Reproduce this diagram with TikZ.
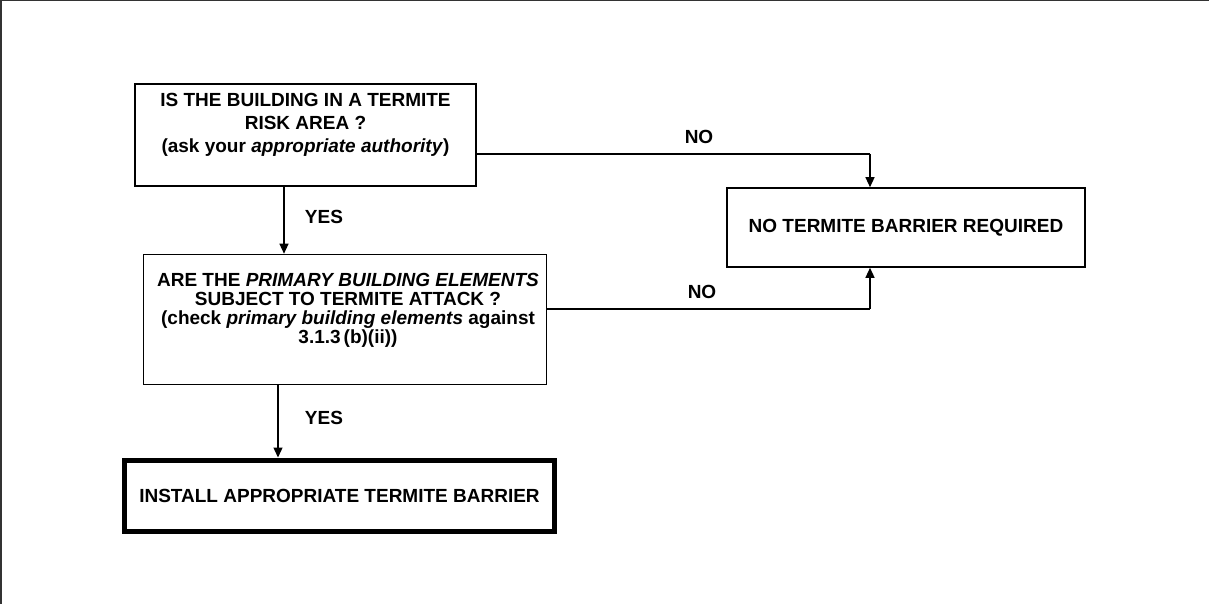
\documentclass[tikz,border=0pt]{standalone}
\usepackage{fontspec}
\setmainfont{Liberation Sans}
\usetikzlibrary{arrows.meta}
\tikzset{
  box/.style={draw=black, line width=1.6pt, fill=none, inner sep=0pt},
  thickbox/.style={draw=black, line width=5pt, inner sep=0pt},
  txt/.style={inner sep=0pt, align=center, font=\bfseries\fontsize{19}{23.3}\selectfont},
  txttight/.style={inner sep=0pt, align=center, font=\bfseries\fontsize{19}{19}\selectfont},
  lab/.style={inner sep=0pt, font=\bfseries\fontsize{19}{23}\selectfont},
  arr/.style={draw=black, line width=1.3pt, -{Triangle[length=10pt,width=9pt]}},
  conn/.style={draw=black, line width=1.3pt}
}
\begin{document}
\begin{tikzpicture}[x=1pt,y=1pt]
\useasboundingbox (0,0) rectangle (1209,-604);
% frame
\draw[line width=1.5pt, black!80] (0.75,-604) -- (0.75,-0.75) -- (1209,-0.75);
% boxes
\node[box, minimum width=341pt, minimum height=102pt] (b1) at (305.5,-135) {};
\node[box, minimum width=403pt, minimum height=130pt] (b2) at (345,-319.5) {};
\node[thickbox, minimum width=430pt, minimum height=71.5pt] (b3) at (339.5,-495.75)
  {\bfseries\fontsize{19}{23}\selectfont INSTALL APPROPRIATE TERMITE BARRIER};
\node[box, minimum width=358pt, minimum height=79pt] (b4) at (906,-227.5)
  {\bfseries\fontsize{19}{23}\selectfont NO TERMITE BARRIER REQUIRED};
% box texts
\node[txt, anchor=north] (t1) at (305.5,-92.7)
  {IS THE BUILDING IN A TERMITE\\RISK AREA ?\\(ask your \textit{appropriate authority})};
\node[txttight, anchor=north] (t2) at (348,-272.7)
  {ARE THE \textit{PRIMARY BUILDING ELEMENTS}\\SUBJECT TO TERMITE ATTACK ?\\(check \textit{primary building elements} against\\3.1.3\hspace{3pt}(b)(ii))};
% connector coordinates
\coordinate (v1) at (284,0);
\coordinate (v2) at (278,0);
\coordinate (k1) at (870,-154);
\coordinate (k2) at (870,-309);
% connectors
\draw[arr] (b1.south -| v1) -- (b2.north -| v1);
\draw[arr] (b2.south -| v2) -- (b3.north -| v2);
\draw[conn] (b1.east |- k1) -- (k1);
\draw[arr] (k1) -- (b4.north -| k1);
\draw[conn] (b2.east |- k2) -- (k2);
\draw[arr] (k2) -- (b4.south -| k2);
% labels
\node[lab] (y1) at (324,-217) {YES};
\node[lab] (y2) at (324,-418) {YES};
\node[lab] (n1) at (699,-137) {NO};
\node[lab] (n2) at (702,-292) {NO};
\end{tikzpicture}
\end{document}
